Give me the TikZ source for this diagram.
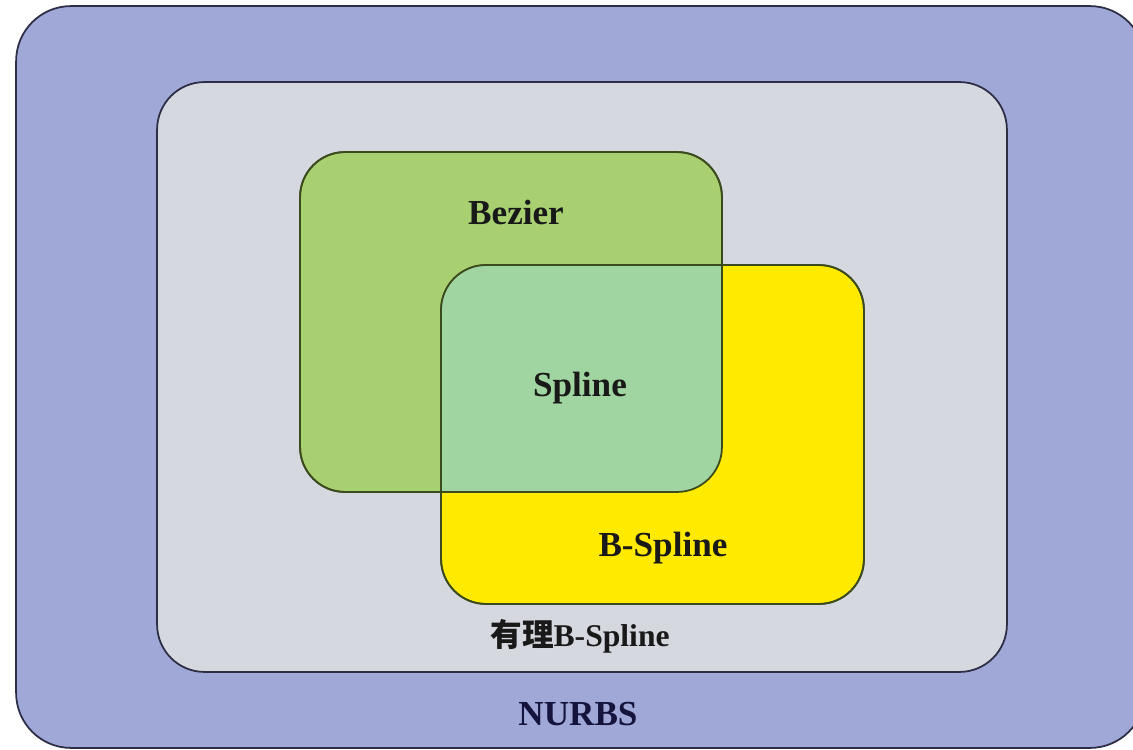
\documentclass[tikz,border=0pt]{standalone}
\usepackage{fontspec}
\setmainfont{Liberation Serif}
\newfontfamily\cjk{Noto Sans CJK SC}
\usepackage{tikz}
\usetikzlibrary{calc}
\definecolor{nurbsblue}{RGB}{160,168,216}
\definecolor{ratgray}{RGB}{213,216,222}
\definecolor{beziergreen}{RGB}{168,208,112}
\definecolor{splinegreen}{RGB}{160,212,160}
\definecolor{bsyellow}{RGB}{255,234,0}
\definecolor{navyline}{RGB}{45,45,70}
\definecolor{oliveline}{RGB}{60,75,30}
\definecolor{navytext}{RGB}{20,20,60}
\tikzset{
    setbox/.style={draw, rectangle, outer sep=0pt, inner sep=0pt, line width=1pt},
    setlabel/.style={font=\bfseries\fontsize{20}{24}\selectfont, text=black!90, inner sep=1pt}
}
\newcommand{\setname}[3]{\node[setlabel] (#1) at (#2) {#3};}

\begin{document}
\begin{tikzpicture}[x=0.02cm, y=-0.02cm]
        \useasboundingbox (0, 0) rectangle (1133, 750);
        % Draw sets
        \node[setbox, draw=navyline, fill=nurbsblue, rounded corners=1.1cm,
            minimum width=22.58cm, minimum height=14.84cm] (nurbs) at (580.5, 377) {};
        \node[setbox, draw=navyline, fill=ratgray, rounded corners=0.95cm,
            minimum width=17cm, minimum height=11.8cm] (rational) at (582, 377) {};
        \node[setbox, draw=oliveline, fill=beziergreen, rounded corners=0.9cm,
            minimum width=8.44cm, minimum height=6.8cm] (bezier) at (511, 322) {};
        \node[setbox, draw=oliveline, fill=bsyellow, rounded corners=0.9cm,
            minimum width=8.46cm, minimum height=6.78cm] (bspline) at (652.5, 434.5) {};

        % Fill overlap
        \begin{scope}
            \clip[rounded corners=0.9cm] (bezier.south west) rectangle (bezier.north east);
            \fill[splinegreen, rounded corners=0.9cm] (bspline.south west) rectangle (bspline.north east);
        \end{scope}
        \draw[oliveline, line width=1pt, rounded corners=0.9cm] (bezier.south west) rectangle (bezier.north east);
        \draw[oliveline, line width=1pt, rounded corners=0.9cm] (bspline.south west) rectangle (bspline.north east);

        % Draw labels
        \setname{bezierlabel}{516, 212}{Bezier}
        \setname{splinelabel}{580, 388}{Spline}
        \setname{bsplinelabel}{663, 548}{B-Spline}
        \node[setlabel, font=\bfseries\fontsize{18}{22}\selectfont] (rationallabel) at (580, 636) {{\cjk 有理}B-Spline};
        \node[setlabel, text=navytext] (nurbslabel) at (578, 714) {NURBS};
    \end{tikzpicture}
\end{document}
